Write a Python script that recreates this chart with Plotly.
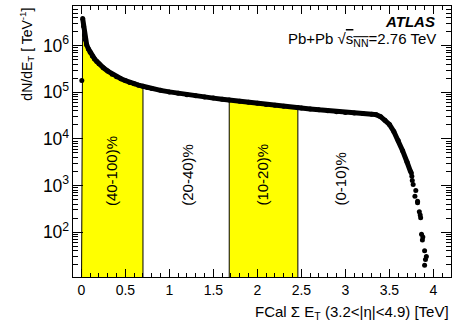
import plotly.graph_objects as go

# FCal sum ET [TeV] and dN/dET [TeV^-1]
et_bulk = [0.015, 0.025, 0.035, 0.045, 0.06, 0.08, 0.10, 0.125, 0.15, 0.175,
           0.2, 0.25, 0.3, 0.35, 0.4, 0.45, 0.5, 0.55, 0.6, 0.65,
           0.7, 0.75, 0.8, 0.9, 1.0, 1.1, 1.2, 1.3, 1.4, 1.5,
           1.6, 1.68, 1.8, 1.9, 2.0, 2.1, 2.2, 2.3, 2.46, 2.5,
           2.6, 2.7, 2.8, 2.9, 3.0, 3.1, 3.2, 3.3, 3.35, 3.4,
           3.45, 3.5, 3.55, 3.6, 3.65, 3.7, 3.74]
dn_bulk = [3.8e6, 2.6e6, 1.7e6, 1.35e6, 1.05e6, 8.5e5, 7.2e5, 6.0e5, 5.2e5, 4.6e5,
           4.1e5, 3.35e5, 2.85e5, 2.45e5, 2.15e5, 1.95e5, 1.78e5, 1.63e5, 1.52e5, 1.42e5,
           1.35e5, 1.27e5, 1.2e5, 1.1e5, 1.02e5, 9.5e4, 8.9e4, 8.4e4, 7.9e4, 7.5e4,
           7.1e4, 6.8e4, 6.4e4, 6.1e4, 5.8e4, 5.5e4, 5.25e4, 5.0e4, 4.7e4, 4.6e4,
           4.4e4, 4.2e4, 4.0e4, 3.85e4, 3.7e4, 3.6e4, 3.5e4, 3.4e4, 3.3e4, 3.0e4,
           2.5e4, 2.05e4, 1.45e4, 9.3e3, 5.6e3, 3.2e3, 2.0e3]

et_tail = [0.005, 3.75, 3.755, 3.76, 3.77, 3.80, 3.79, 3.82, 3.82, 3.84,
           3.85, 3.855, 3.865, 3.88, 3.875, 3.90, 3.92, 3.91, 3.90]
dn_tail = [1.8e5, 1860, 1580, 1290, 1050, 780, 590, 460, 430, 275,
           235, 205, 91, 79, 68, 40, 30, 26, 19.5]

bins = [(0.0, 0.7), (1.68, 2.46)]
labels = ["(40-100)%", "(20-40)%", "(10-20)%", "(0-10)%"]
label_x = [0.35, 1.21, 2.06, 2.94]

FONT = "Liberation Sans, Arial, Helvetica, sans-serif"

fig = go.Figure()

for lo, hi in bins:
    xs = [lo] + [x for x in et_bulk if lo <= x <= hi] + [hi]
    ys = [1.0] + [y for x, y in zip(et_bulk, dn_bulk) if lo <= x <= hi] + [1.0]
    fig.add_trace(go.Scatter(
        x=xs, y=ys, mode="lines", fill="toself",
        fillcolor="#ffff00", line=dict(color="black", width=1),
        showlegend=False, hoverinfo="skip",
    ))

fig.add_trace(go.Scatter(
    x=et_bulk, y=dn_bulk, mode="lines+markers",
    line=dict(color="black", width=5),
    marker=dict(color="black", size=5),
    showlegend=False,
))
fig.add_trace(go.Scatter(
    x=et_tail, y=dn_tail, mode="markers",
    marker=dict(color="black", size=5),
    showlegend=False,
))

# centrality labels, all ending at the same height
for txt, x in zip(labels, label_x):
    fig.add_annotation(
        x=x, y=0.255, xref="x", yref="paper", text=txt, textangle=-90,
        showarrow=False, xanchor="center", yanchor="bottom",
        font=dict(family=FONT, size=15, color="black"),
    )

fig.add_annotation(
    x=0.963, y=0.941, xref="paper", yref="paper", xanchor="right", yanchor="middle",
    text="<b><i>ATLAS</i></b>", showarrow=False,
    font=dict(family=FONT, size=15, color="black"),
)
fig.add_annotation(
    x=0.966, y=0.878, xref="paper", yref="paper", xanchor="right", yanchor="middle",
    text="Pb+Pb √<span style='text-decoration:overline'>s<sub>NN</sub></span>=2.76 TeV",
    showarrow=False, font=dict(family=FONT, size=15, color="black"),
)
fig.add_annotation(
    x=-0.124, y=1.0, xref="paper", yref="paper", xanchor="center", yanchor="top",
    text="dN/dE<sub>T</sub> [ TeV<sup>-1</sup>]", textangle=-90, showarrow=False,
    font=dict(family=FONT, size=14, color="black"),
)
fig.add_annotation(
    x=1.0, y=-0.13, xref="paper", yref="paper", xanchor="right", yanchor="middle",
    text="FCal Σ E<sub>T</sub> (3.2<|η|<4.9) [TeV]", showarrow=False,
    font=dict(family=FONT, size=15, color="black"),
)

fig.update_layout(
    template="none",
    width=460, height=330,
    margin=dict(l=73, r=9, t=6, b=53),
    paper_bgcolor="white", plot_bgcolor="white",
    font=dict(family=FONT, size=14, color="black"),
    xaxis=dict(
        range=[-0.095, 4.2], dtick=0.5, tick0=0, automargin=False,
        ticks="inside", ticklen=8, tickwidth=1, tickcolor="black",
        minor=dict(dtick=0.1, ticks="inside", ticklen=4, tickcolor="black"),
        showline=True, linecolor="black", linewidth=1, mirror="allticks",
        showgrid=False, zeroline=False,
        tickfont=dict(family=FONT, size=14),
    ),
    yaxis=dict(
        type="log", range=[1.04, 6.85], dtick=1, automargin=False,
        exponentformat="power",
        ticks="inside", ticklen=10, tickwidth=1, tickcolor="black",
        minor=dict(dtick="D1", ticks="inside", ticklen=5, tickcolor="black", showgrid=False),
        showline=True, linecolor="black", linewidth=1, mirror="allticks",
        showgrid=False, zeroline=False,
        tickfont=dict(family=FONT, size=14),
    ),
)

# the page body has an 8px default margin; drop it so the figure sits at 0,0
fig.write_html(
    "out.html",
    config={"displayModeBar": False},
    post_script="document.body.style.margin='0';",
)
